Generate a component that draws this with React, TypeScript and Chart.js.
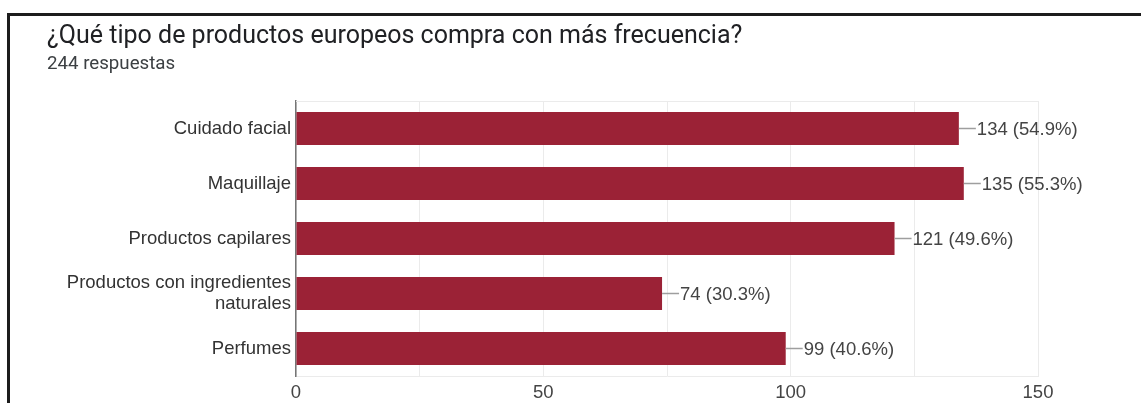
import React, { useEffect, useRef } from 'react';
import { Chart, registerables } from 'chart.js';

Chart.register(...registerables);

const titleText = '¿Qué tipo de productos europeos compra con más frecuencia?';
const subtitleText = '244 respuestas';
const categories: (string | string[])[] = [
  'Cuidado facial',
  'Maquillaje',
  'Productos capilares',
  ['Productos con ingredientes', 'naturales'],
  'Perfumes',
];
const counts = [134, 135, 121, 74, 99];
const percents = ['54.9%', '55.3%', '49.6%', '30.3%', '40.6%'];
const xMax = 150;
const xStep = 25;
const xLabelStep = 50;

const BAR_COLOR = '#9b2236';
const LABEL_FONT = '"Liberation Sans", Arial, sans-serif';
const LABEL_SIZE = 18.5;

const valueLabelPlugin = {
  id: 'valueLabels',
  afterDatasetsDraw(chart: any) {
    const ctx = chart.ctx;
    const meta = chart.getDatasetMeta(0);
    ctx.save();
    meta.data.forEach((el: any, i: number) => {
      const x = el.x;
      const y = el.y;
      ctx.strokeStyle = '#9e9e9e';
      ctx.lineWidth = 1.5;
      ctx.beginPath();
      ctx.moveTo(x, y);
      ctx.lineTo(x + 17, y);
      ctx.stroke();
      ctx.fillStyle = '#444444';
      ctx.font = `${LABEL_SIZE}px ${LABEL_FONT}`;
      ctx.textAlign = 'left';
      ctx.textBaseline = 'middle';
      ctx.fillText(`${counts[i]} (${percents[i]})`, x + 18, y + 1);
    });
    ctx.restore();
  },
};

const topLinePlugin = {
  id: 'topLine',
  beforeDatasetsDraw(chart: any) {
    const { ctx, chartArea } = chart;
    ctx.save();
    ctx.strokeStyle = '#ebebeb';
    ctx.lineWidth = 1;
    ctx.beginPath();
    ctx.moveTo(chartArea.left, chartArea.top + 0.5);
    ctx.lineTo(chartArea.right, chartArea.top + 0.5);
    ctx.stroke();
    ctx.restore();
  },
};

function BarChart() {
  const ref = useRef<HTMLCanvasElement | null>(null);
  useEffect(() => {
    if (!ref.current) return;
    const chart = new Chart(ref.current, {
      type: 'bar',
      data: {
        labels: categories,
        datasets: [
          {
            data: counts,
            backgroundColor: BAR_COLOR,
            borderWidth: 0,
            barPercentage: 0.6,
            categoryPercentage: 1,
          },
        ],
      },
      options: {
        indexAxis: 'y',
        responsive: false,
        animation: false,
        maintainAspectRatio: false,
        layout: { padding: { top: 101, right: 103, left: 0, bottom: 0 } },
        plugins: { legend: { display: false }, tooltip: { enabled: false } },
        scales: {
          x: {
            min: 0,
            max: xMax,
            afterFit(scale: any) {
              scale.height = 27;
            },
            grid: { color: '#ebebeb', lineWidth: 1, drawTicks: false },
            border: { color: '#ebebeb', width: 1 },
            ticks: {
              stepSize: xStep,
              padding: 6,
              color: '#444444',
              font: { family: LABEL_FONT, size: LABEL_SIZE },
              maxRotation: 0,
              callback: (v: any) => (Number(v) % xLabelStep === 0 ? String(v) : ''),
            },
          },
          y: {
            afterFit(scale: any) {
              scale.width = 296;
            },
            grid: { display: false, drawTicks: false },
            border: { color: '#757575', width: 1.5 },
            ticks: {
              padding: 5,
              color: '#333333',
              font: { family: LABEL_FONT, size: LABEL_SIZE, lineHeight: 1.1 },
              autoSkip: false,
            },
          },
        },
      },
      plugins: [valueLabelPlugin, topLinePlugin],
    });
    return () => chart.destroy();
  }, []);
  return <canvas ref={ref} width={1141} height={403} style={{ position: 'absolute', left: 0, top: 0 }} />;
}

export default function App() {
  return (
    <div
      style={{
        position: 'absolute',
        left: 0,
        top: 0,
        width: 1141,
        height: 403,
        overflow: 'hidden',
        background: '#ffffff',
      }}
    >
      <div
        style={{
          position: 'absolute',
          left: 7,
          top: 13,
          width: 1300,
          height: 600,
          border: '3px solid #1c1c1c',
          boxSizing: 'border-box',
        }}
      />
      <BarChart />
      <div
        style={{
          position: 'absolute',
          left: 47,
          top: 22,
          fontFamily: 'Roboto, sans-serif',
          fontSize: 25,
          lineHeight: 1,
          color: '#202124',
          whiteSpace: 'nowrap',
        }}
      >
        {titleText}
      </div>
      <div
        style={{
          position: 'absolute',
          left: 47,
          top: 54,
          fontFamily: 'Roboto, sans-serif',
          fontSize: 18.7,
          lineHeight: 1,
          color: '#3c4043',
          whiteSpace: 'nowrap',
        }}
      >
        {subtitleText}
      </div>
    </div>
  );
}
